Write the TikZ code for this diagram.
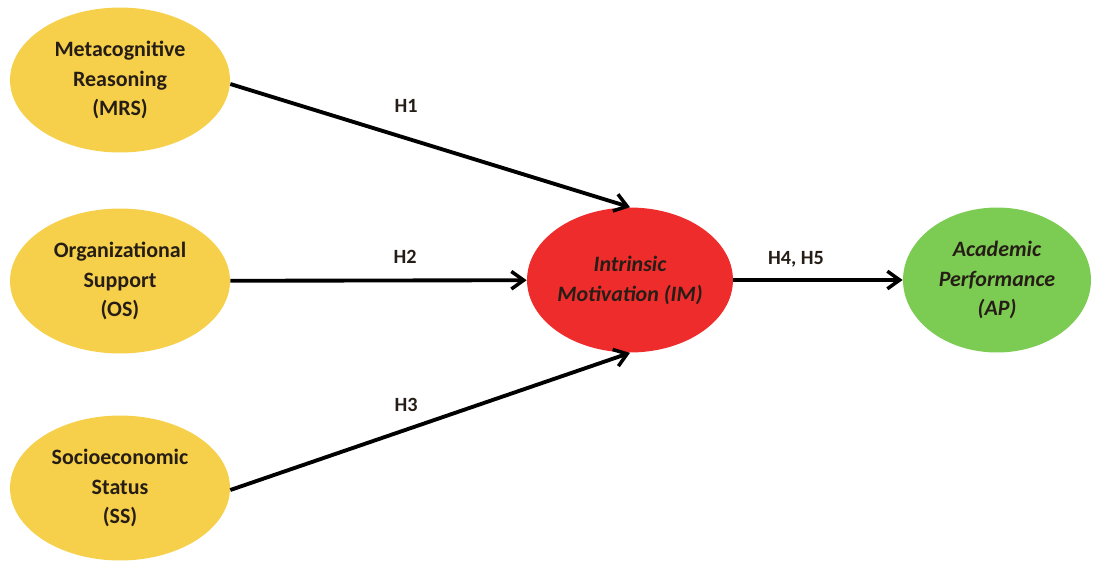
\documentclass[tikz,border=0pt]{standalone}
\usepackage{fontspec}
\setmainfont{Carlito}
\usetikzlibrary{arrows.meta, shapes.geometric}

\definecolor{yellowfill}{RGB}{246,208,74}
\definecolor{redfill}{RGB}{238,44,44}
\definecolor{greenfill}{RGB}{124,204,84}
\definecolor{inktext}{RGB}{38,30,22}

\tikzset{
	construct/.style = {ellipse, inner sep = 0pt, minimum width = 4.4cm, minimum height = 2.9cm,
		align = center, text = inktext, font = \fontsize{12.5}{17}\selectfont\bfseries},
	path label/.style = {font = \fontsize{11.5}{14}\selectfont\bfseries, text = inktext}
}

\begin{document}
\begin{tikzpicture}[x = 0.02cm, y = -0.02cm, > = {Straight Barb[length = 7pt, width = 10pt, line width = 2pt]}]
	
	% Canvas
	
	\useasboundingbox (0, 0) rectangle (1093, 562);
	
	% Constructs
	
	\node [construct, fill = yellowfill] (mrs) at (120, 80) {Metacognitive\\Reasoning\\(MRS)};
	\node [construct, fill = yellowfill] (os) at (120, 281) {Organizational\\Support\\(OS)};
	\node [construct, fill = yellowfill] (ss) at (120, 488) {Socioeconomic\\Status\\(SS)};
	\node [construct, fill = redfill, minimum width = 4.12cm, font = \fontsize{12.5}{17}\selectfont\bfseries\itshape] (im) at (630, 280) {Intrinsic\\Motivation (IM)};
	\node [construct, fill = greenfill, minimum width = 3.76cm, font = \fontsize{12.5}{17}\selectfont\bfseries\itshape] (ap) at (997, 280) {Academic\\Performance\\(AP)};
	
	% Hypothesised paths
	
	\begin{scope}[->, line width = 2.2pt]
	
		\draw (mrs.east) ++(0, 4) coordinate (mrs out) -- node [path label, pos = 0.44, above = 10pt] {H1} (im.north);
		\draw (os) -- node [path label, pos = 0.59, above = 5pt] {H2} (im);
		\draw (ss.east) ++(0, 2) coordinate (ss out) -- node [path label, pos = 0.44, above = 6pt] {H3} (im.south);
		\draw (im) -- node [path label, pos = 0.37, above = 3pt] {H4, H5} (ap);
		
	\end{scope}

\end{tikzpicture}
\end{document}
